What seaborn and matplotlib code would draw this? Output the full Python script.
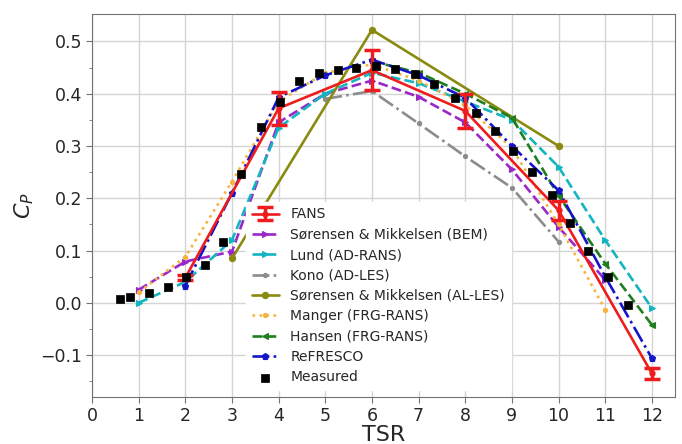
import matplotlib
matplotlib.use("Agg")
import matplotlib.pyplot as plt
import seaborn as sns
import numpy as np

# ---------------- data ----------------
tsr_fans = [2, 4, 6, 8, 10, 12]
cp_fans = [0.048, 0.372, 0.445, 0.367, 0.177, -0.135]
err_fans = [0.005, 0.031, 0.038, 0.032, 0.018, 0.010]

tsr_bem = [1, 2, 3, 4, 5, 6, 7, 8, 9, 10, 11]
cp_bem = [0.025, 0.079, 0.098, 0.345, 0.400, 0.425, 0.394, 0.345, 0.255, 0.145, 0.044]

tsr_lund = [1, 2, 3, 4, 5, 6, 7, 8, 9, 10, 11, 12]
cp_lund = [0.000, 0.040, 0.120, 0.335, 0.400, 0.440, 0.420, 0.385, 0.350, 0.260, 0.120, -0.010]

tsr_kono = [5, 6, 7, 8, 9, 10]
cp_kono = [0.390, 0.405, 0.343, 0.280, 0.220, 0.117]

tsr_alles = [3, 6, 10]
cp_alles = [0.085, 0.522, 0.300]

tsr_manger = [1, 2, 3, 4, 5, 6, 7, 8, 9, 10, 11]
cp_manger = [0.020, 0.088, 0.232, 0.385, 0.440, 0.456, 0.425, 0.378, 0.296, 0.150, -0.013]

tsr_hansen = [6, 7, 8, 9, 10, 11, 12]
cp_hansen = [0.462, 0.440, 0.400, 0.354, 0.205, 0.075, -0.042]

tsr_refresco = [2, 3, 4, 5, 6, 7, 8, 9, 10, 11, 12]
cp_refresco = [0.033, 0.210, 0.393, 0.435, 0.465, 0.435, 0.392, 0.300, 0.215, 0.050, -0.106]

tsr_meas = [0.59, 0.81, 1.22, 1.62, 2.02, 2.43, 2.81, 3.19, 3.62, 4.03, 4.44, 4.87, 5.27, 5.66,
            6.09, 6.50, 6.92, 7.34, 7.77, 8.24, 8.63, 9.02, 9.44, 9.85, 10.24, 10.63, 11.06, 11.48]
cp_meas = [0.008, 0.011, 0.019, 0.031, 0.050, 0.073, 0.117, 0.247, 0.336, 0.385, 0.424, 0.440, 0.445, 0.450,
           0.452, 0.447, 0.437, 0.418, 0.392, 0.363, 0.328, 0.290, 0.250, 0.206, 0.153, 0.100, 0.050, -0.004]

x_ticks = list(range(0, 13))
y_ticks = [-0.1, 0.0, 0.1, 0.2, 0.3, 0.4, 0.5]

# ---------------- style ----------------
sns.set_style("whitegrid", {
    "axes.edgecolor": "0.45",
    "grid.color": "0.83",
    "xtick.bottom": True,
    "ytick.left": True,
})
plt.rcParams["font.family"] = ["DejaVu Sans"]

fig, ax = plt.subplots(figsize=(6.82, 4.44), dpi=100)
fig.subplots_adjust(left=0.135, right=0.99, top=0.968, bottom=0.106)

def line(x, y, color, ls, marker, label, ms=5):
    sns.lineplot(x=x, y=y, ax=ax, color=color, linestyle=ls, marker=marker,
                 markersize=ms, markeredgecolor=color, markeredgewidth=0.8,
                 linewidth=1.9, estimator=None, sort=False, label=label, legend=False)
    return ax.lines[-1]

h_bem = line(tsr_bem, cp_bem, "#9b27c9", "--", ">", "Sørensen & Mikkelsen (BEM)")
h_lund = line(tsr_lund, cp_lund, "#13b5c0", "--", ">", "Lund (AD-RANS)")
h_kono = line(tsr_kono, cp_kono, "#8c8c8c", "-.", ".", "Kono (AD-LES)", ms=6)
h_alles = line(tsr_alles, cp_alles, "#8a8a10", "-", "o", "Sørensen & Mikkelsen (AL-LES)", ms=4.5)
h_manger = line(tsr_manger, cp_manger, "#f7b43c", ":", ".", "Manger (FRG-RANS)", ms=6)
h_hansen = line(tsr_hansen, cp_hansen, "#1f7f1f", "--", "<", "Hansen (FRG-RANS)")
h_ref = line(tsr_refresco, cp_refresco, "#1414c8", "-.", "p", "ReFRESCO")

h_fans = ax.errorbar(tsr_fans, cp_fans, yerr=err_fans, color="#ee1c1c", linewidth=1.9,
                     marker="o", markersize=3.5, elinewidth=2.5, capsize=6, capthick=2.5,
                     label="FANS", zorder=5)

sns.scatterplot(x=tsr_meas, y=cp_meas, ax=ax, marker="s", color="black", s=36,
                edgecolor="black", linewidth=0.5, zorder=6, legend=False)
h_meas = ax.collections[-1]

ax.set_xlim(0, 12.5)
ax.set_ylim(-0.18, 0.552)
ax.set_xticks(x_ticks)
ax.set_yticks(y_ticks)
ax.set_yticks(np.arange(-0.15, 0.55, 0.1), minor=True)
ax.tick_params(axis="both", which="major", labelsize=12.5, length=4, color="0.45", pad=3)
ax.tick_params(axis="y", which="minor", length=2, color="0.45")
ax.grid(True, which="major", color="0.83", linewidth=1.0)
ax.grid(False, which="minor")

ax.set_xlabel("TSR", fontsize=16, labelpad=0)
ax.set_ylabel("$C_P$", fontsize=16, labelpad=3)

handles = [h_fans, h_bem, h_lund, h_kono, h_alles, h_manger, h_hansen, h_ref, h_meas]
labels = ["FANS", "Sørensen & Mikkelsen (BEM)", "Lund (AD-RANS)", "Kono (AD-LES)",
          "Sørensen & Mikkelsen (AL-LES)", "Manger (FRG-RANS)", "Hansen (FRG-RANS)",
          "ReFRESCO", "Measured"]
leg = ax.legend(handles, labels, loc="lower left", bbox_to_anchor=(0.264, 0.018),
                borderaxespad=0, fontsize=10, frameon=True, framealpha=1,
                edgecolor="white", fancybox=False, labelspacing=0.46, handlelength=2.0)

fig.savefig("out.png", dpi=100)
